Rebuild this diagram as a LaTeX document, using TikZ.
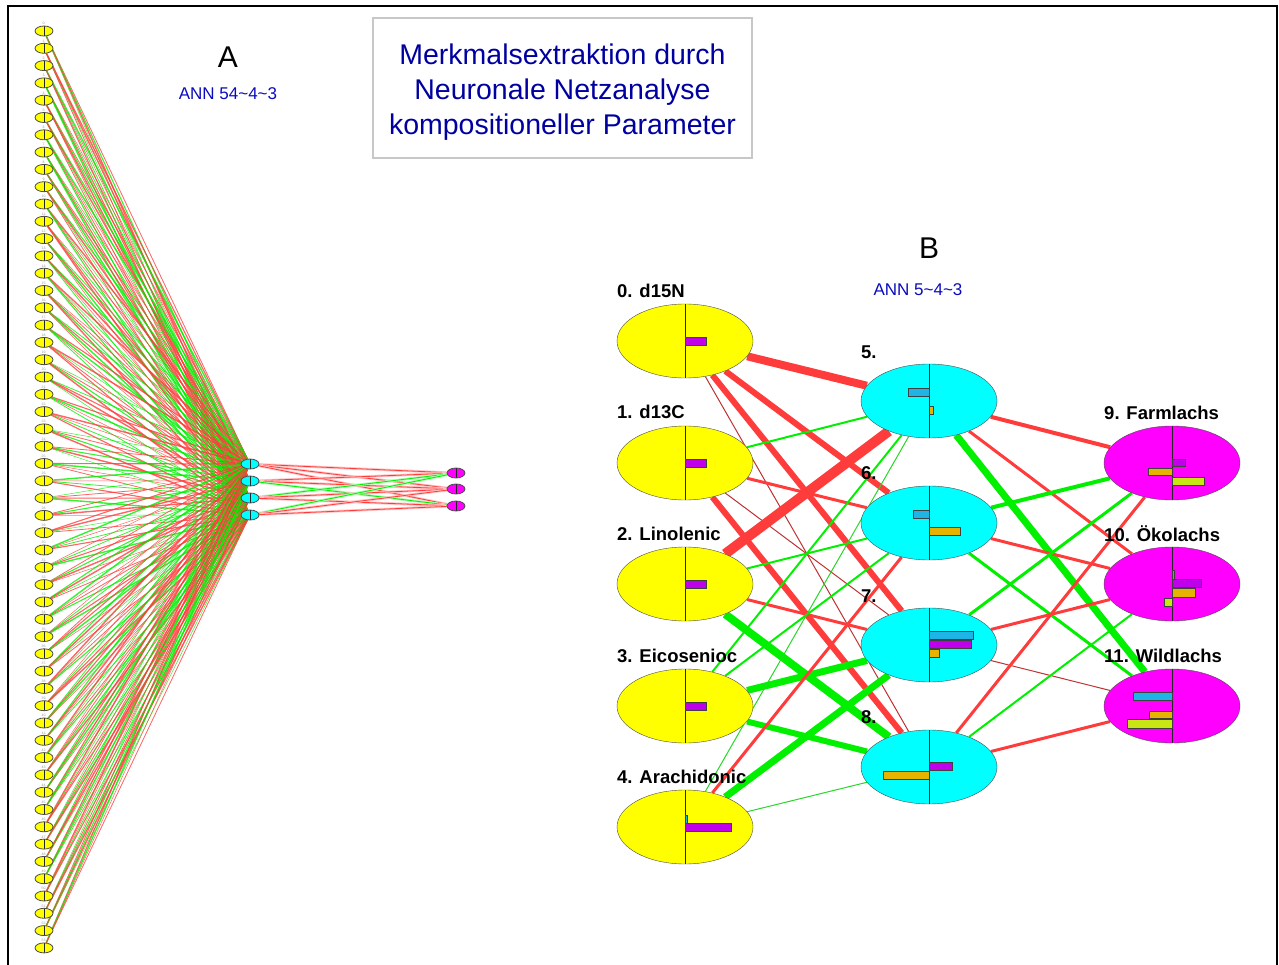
\documentclass[tikz,border=0pt]{standalone}
\usepackage{fontspec}
\setmainfont{Liberation Sans}
\usetikzlibrary{shapes.geometric}

\definecolor{titleblue}{RGB}{0,0,160}
\definecolor{annblue}{RGB}{10,10,190}
\definecolor{unityellow}{RGB}{255,255,0}
\definecolor{unitcyan}{RGB}{0,255,255}
\definecolor{unitmag}{RGB}{255,0,255}
\definecolor{linkred}{RGB}{255,60,60}
\definecolor{linkgreen}{RGB}{0,240,0}
\definecolor{thinred}{RGB}{190,50,50}
\definecolor{thingreen}{RGB}{40,215,40}
\definecolor{barvio}{RGB}{190,0,235}
\definecolor{barcyan}{RGB}{30,180,230}
\definecolor{bargold}{RGB}{230,180,0}
\definecolor{barlime}{RGB}{200,230,20}

\pgfdeclarelayer{back}
\pgfsetlayers{back,main}

\tikzset{
  cell/.style={ellipse, draw=black!70, inner sep=0pt,
    path picture={\draw[black!85] (path picture bounding box.north) -- (path picture bounding box.south);}},
  bigin/.style={cell, fill=unityellow, minimum width=136pt, minimum height=74pt},
  bighid/.style={cell, fill=unitcyan, minimum width=136pt, minimum height=74pt},
  bigout/.style={cell, fill=unitmag, minimum width=136pt, minimum height=74pt},
  smallin/.style={cell, fill=unityellow, minimum width=18pt, minimum height=10pt, line width=0.8pt},
  smallhid/.style={cell, fill=unitcyan, minimum width=18pt, minimum height=10pt, line width=0.8pt},
  smallout/.style={cell, fill=unitmag, minimum width=18pt, minimum height=10pt, line width=0.8pt},
  tinylbl/.style={font=\fontsize{3.5}{4}\selectfont, text=black!40, inner sep=0.5pt},
  lbl/.style={font=\fontsize{18.5}{20}\selectfont\bfseries, anchor=west, inner sep=0pt},
  bar/.style={draw=black!75, line width=0.6pt},
  outlnk/.style={draw=#1, line width=0.8pt, preaction={draw=#1!30, line width=2.6pt}},
}

% bar inside a unit: node, x0, y0, x1, y1 (offsets from centre), colour
\newcommand\annbar[6]{\draw[bar, fill=#6] ([shift={(#2,#3)}]#1.center) rectangle ([shift={(#4,#5)}]#1.center);}

\begin{document}
\begin{tikzpicture}[x=1pt, y=-1pt]
\useasboundingbox (0,0) rectangle (1279,965);
\draw[line width=2pt] (8,990) -- (8,6) -- (1277,6) -- (1277,990);

% titles
\draw[draw=black!22, line width=2pt] (373,18) rectangle (752,158);
\node[text=titleblue, align=center, font=\fontsize{28.5}{35}\selectfont] (title) at (562.5,92)
  {Merkmalsextraktion durch\\Neuronale Netzanalyse\\kompositioneller Parameter};
\node[font=\fontsize{30}{30}\selectfont] (capA) at (228,57) {A};
\node[text=annblue, font=\fontsize{17}{17}\selectfont] (annA) at (228,94) {ANN 54\textasciitilde4\textasciitilde3};
\node[font=\fontsize{30}{30}\selectfont] (capB) at (929,248) {B};
\node[text=annblue, font=\fontsize{17}{17}\selectfont] (annB) at (918,290) {ANN 5\textasciitilde4\textasciitilde3};

% network A
\foreach \i in {0,...,53}{
  \pgfmathsetmacro\ya{31+17.3*\i}
  \node[smallin, label={[tinylbl]above:\i.}] (a\i) at (44,\ya) {};
}
\foreach \j/\y in {1/464,2/481,3/498,4/515}
  \node[smallhid] (h\j) at (250,\y) {};
\foreach \k/\y in {1/473,2/489,3/506}
  \node[smallout] (o\k) at (456,\y) {};

\begin{pgfonlayer}{back}
\foreach \i in {0,...,53}
  \foreach \j in {1,...,4}{
    \pgfmathtruncatemacro\k{mod(\i*37+\j*11,7)}
    \pgfmathsetmacro\w{0.5+0.3*mod(\i*13+\j*5,4)}
    \ifnum\k<3 \def\lk{linkgreen}\else\def\lk{linkred}\fi
    \draw[draw=\lk, line width=\w, opacity=0.8] (a\i) -- (h\j);
  }
\foreach \j/\k/\c in {1/1/linkred,1/2/linkred,1/3/linkred,2/1/linkred,2/2/linkred,2/3/linkgreen,
    3/1/linkgreen,3/2/linkred,3/3/linkred,4/1/linkgreen,4/2/linkred,4/3/linkred}
  \draw[outlnk=\c] (h\j) -- (o\k);
\end{pgfonlayer}

% network B
\node[bigin] (in0) at (685,341) {};
\node[bigin] (in1) at (685,463) {};
\node[bigin] (in2) at (685,584) {};
\node[bigin] (in3) at (685,706) {};
\node[bigin] (in4) at (685,827) {};
\node[bighid] (hid5) at (929,401) {};
\node[bighid] (hid6) at (929,523) {};
\node[bighid] (hid7) at (929,645) {};
\node[bighid] (hid8) at (929,767) {};
\node[bigout] (out9) at (1172,463) {};
\node[bigout] (out10) at (1172,584) {};
\node[bigout] (out11) at (1172,706) {};

\node[lbl] (lin0) at (617,291) {0. d15N};
\node[lbl] (lin1) at (617,412) {1. d13C};
\node[lbl] (lin2) at (617,534) {2. Linolenic};
\node[lbl] (lin3) at (617,656) {3. Eicosenioc};
\node[lbl] (lin4) at (617,777) {4. Arachidonic};
\node[lbl] (lhid5) at (861,352) {5.};
\node[lbl] (lhid6) at (861,473) {6.};
\node[lbl] (lhid7) at (861,596) {7.};
\node[lbl] (lhid8) at (861,717) {8.};
\node[lbl] (lout9) at (1104,413) {9. Farmlachs};
\node[lbl] (lout10) at (1104,534) {10. Ökolachs};
\node[lbl] (lout11) at (1104,656) {11. Wildlachs};

\begin{pgfonlayer}{back}
\foreach \s/\t/\w/\c in {in0/hid5/8/linkred, in0/hid6/6/linkred, in0/hid7/6/linkred, in0/hid8/1/thinred,
    in1/hid5/2/linkgreen, in1/hid6/3/linkred, in1/hid7/1/thinred, in1/hid8/6/linkred,
    in2/hid5/10/linkred, in2/hid6/2/linkgreen, in2/hid7/3/linkred, in2/hid8/8/linkgreen,
    in3/hid5/2/linkgreen, in3/hid6/2/linkgreen, in3/hid7/7/linkgreen, in3/hid8/6/linkgreen,
    in4/hid5/1/thingreen, in4/hid6/3/linkred, in4/hid7/7/linkgreen, in4/hid8/1/thingreen,
    hid5/out9/4/linkred, hid5/out10/3/linkred, hid5/out11/7/linkgreen,
    hid6/out9/4/linkgreen, hid6/out10/3/linkred, hid6/out11/3/linkgreen,
    hid7/out9/3/linkgreen, hid7/out10/3/linkred, hid7/out11/1/thinred,
    hid8/out9/3/linkred, hid8/out10/2/linkgreen, hid8/out11/3/linkred}
  \draw[draw=\c, line width=\w] (\s) -- (\t);
\end{pgfonlayer}

% bars
\annbar{in0}{0}{-4}{21}{4}{barvio}
\annbar{in1}{0}{-4}{21}{4}{barvio}
\annbar{in2}{0}{-4}{21}{4}{barvio}
\annbar{in3}{0}{-4}{21}{4}{barvio}
\annbar{in4}{0}{-12}{2}{-4}{barcyan}
\annbar{in4}{0}{-4}{46}{4}{barvio}
\annbar{hid5}{-21}{-13}{0}{-5}{barcyan}
\annbar{hid5}{0}{5}{4}{13}{bargold}
\annbar{hid6}{-16}{-13}{0}{-5}{barcyan}
\annbar{hid6}{0}{4}{31}{12}{bargold}
\annbar{hid7}{0}{-14}{44}{-6}{barcyan}
\annbar{hid7}{0}{-5}{42}{3}{barvio}
\annbar{hid7}{0}{4}{10}{12}{bargold}
\annbar{hid8}{0}{-5}{23}{3}{barvio}
\annbar{hid8}{-46}{4}{0}{12}{bargold}
\annbar{out9}{0}{-4}{13}{3}{barvio}
\annbar{out9}{-24}{5}{0}{12}{bargold}
\annbar{out9}{0}{14}{32}{22}{barlime}
\annbar{out10}{0}{-14}{2}{-5}{barcyan}
\annbar{out10}{0}{-5}{29}{3}{barvio}
\annbar{out10}{0}{4}{23}{13}{bargold}
\annbar{out10}{-8}{14}{0}{22}{barlime}
\annbar{out11}{-39}{-14}{0}{-6}{barcyan}
\annbar{out11}{-23}{5}{0}{12}{bargold}
\annbar{out11}{-45}{13}{0}{22}{barlime}
\end{tikzpicture}
\end{document}
